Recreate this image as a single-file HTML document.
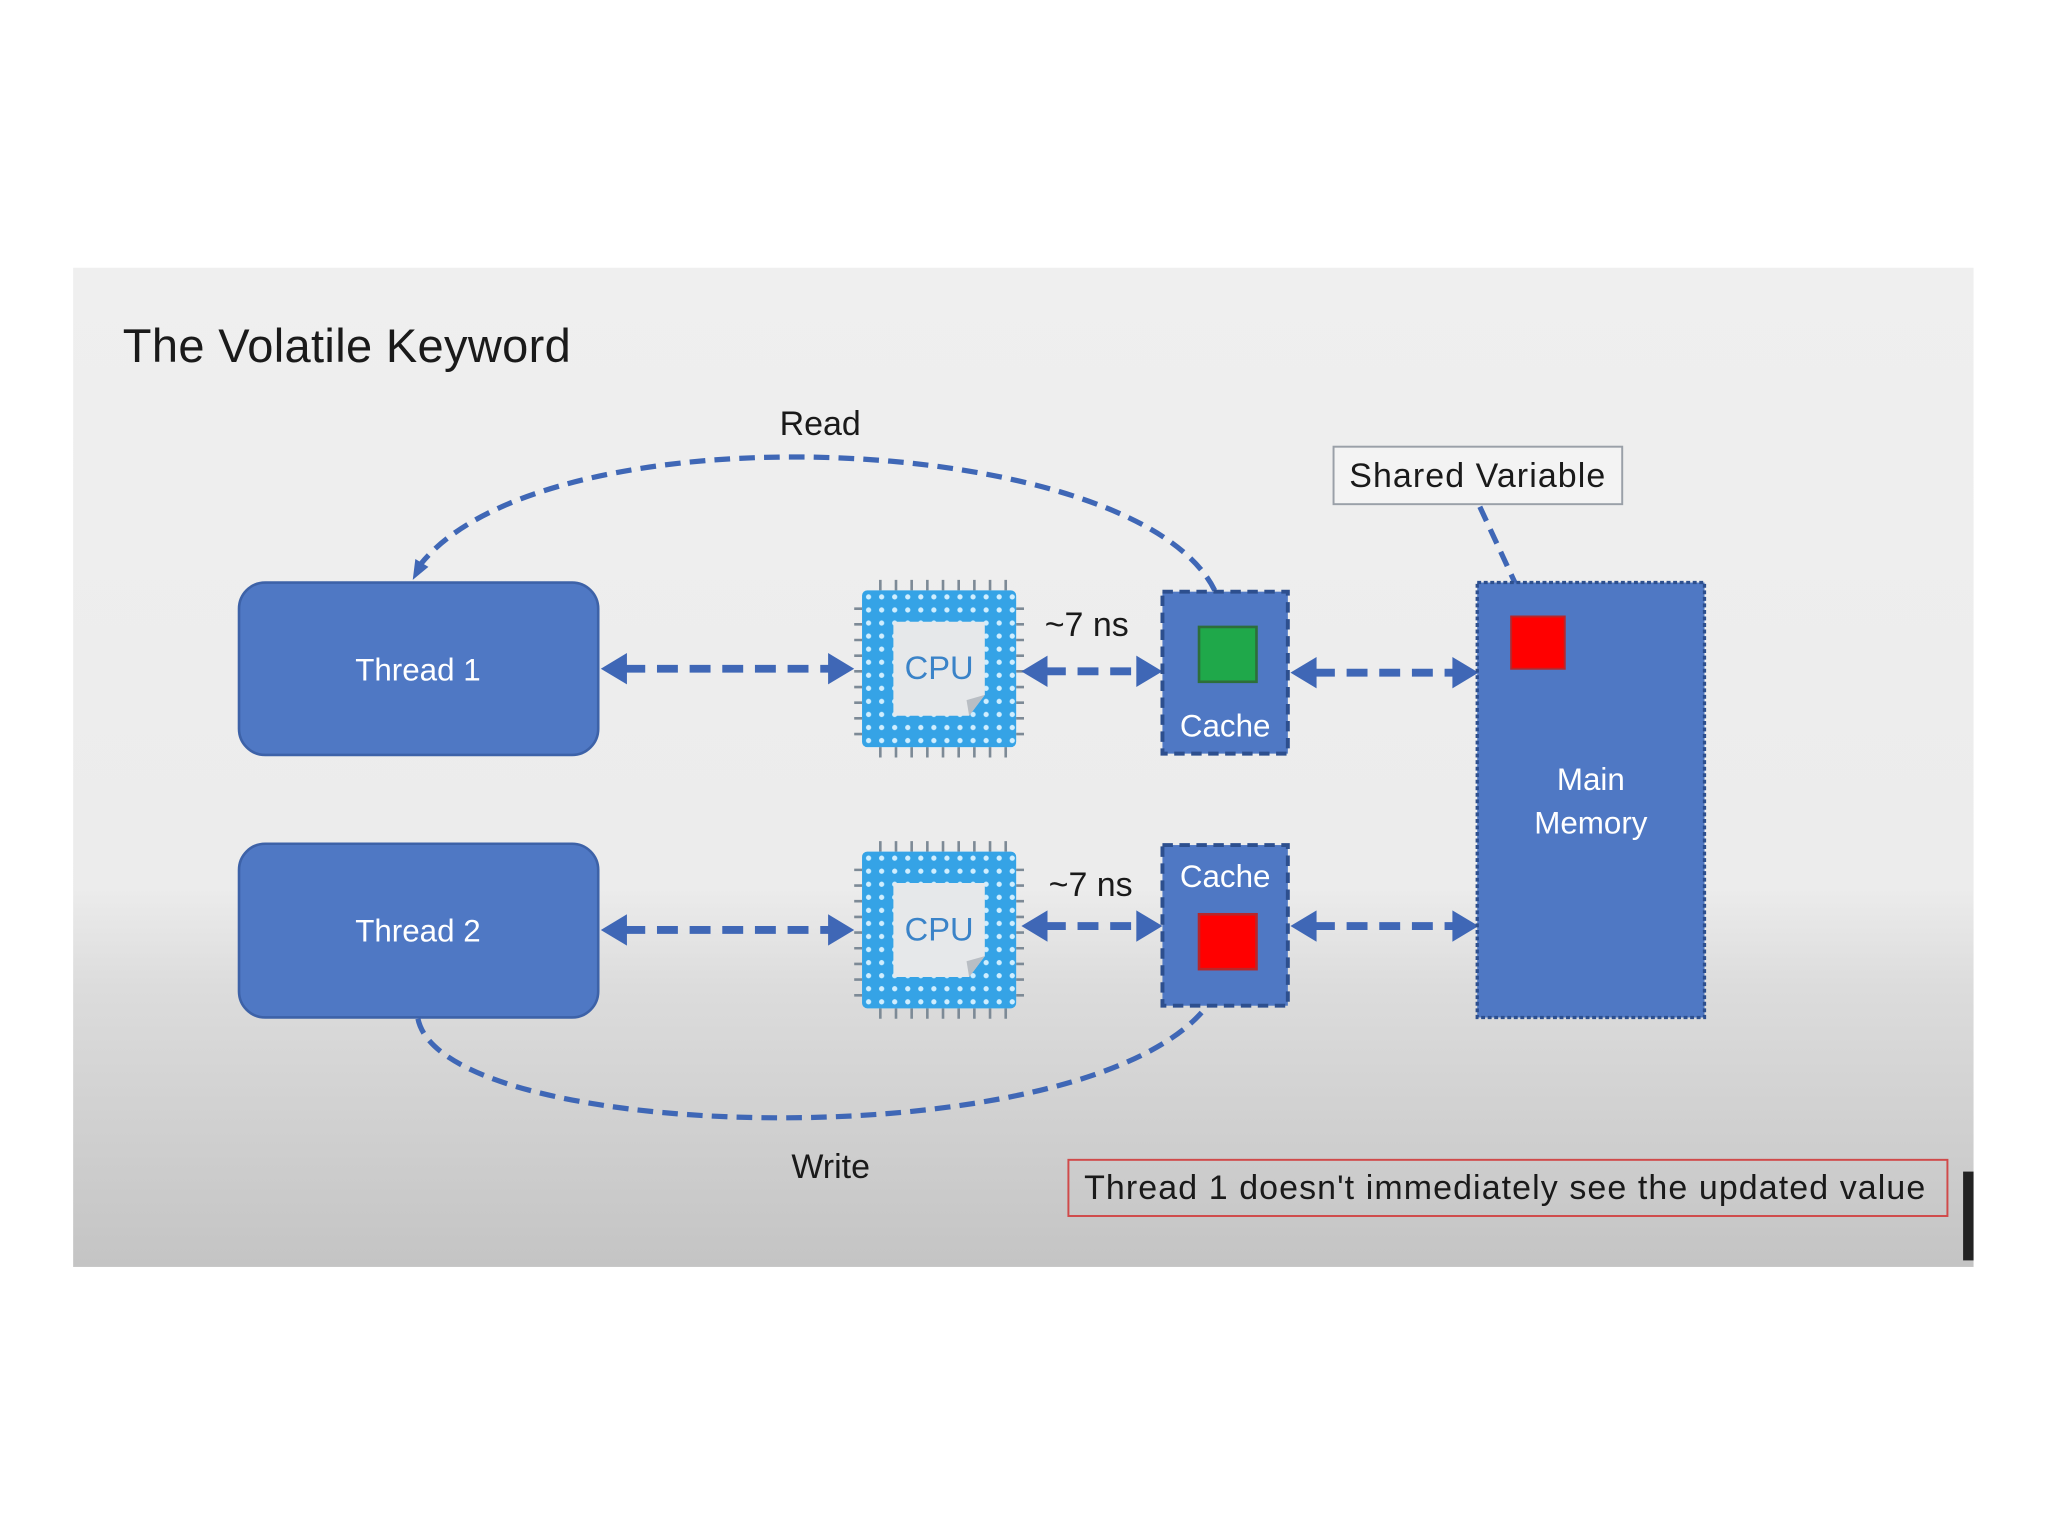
<!DOCTYPE html>
<html><head><meta charset="utf-8"><style>
html,body{margin:0;padding:0;background:#fff;}
svg{display:block;}
text{font-family:"Liberation Sans",sans-serif;}
</style></head><body>
<svg width="2048" height="1536" viewBox="0 0 1568 1176" xmlns="http://www.w3.org/2000/svg">
<defs>
<linearGradient id="bg" x1="0" y1="0" x2="0" y2="1">
<stop offset="0" stop-color="#efefef"/>
<stop offset="0.62" stop-color="#ececec"/>
<stop offset="0.72" stop-color="#dcdcdc"/>
<stop offset="1" stop-color="#c4c4c4"/>
</linearGradient>
<pattern id="dots" width="10" height="10" patternUnits="userSpaceOnUse">
<rect width="10" height="10" fill="#35a3e6"/>
<circle cx="5" cy="5" r="2" fill="#cfeeff"/>
</pattern>
<g id="cpu">
<g stroke="#7d8a96" stroke-width="2">
<path d="M14,-8V0M26,-8V0M38,-8V0M50,-8V0M62,-8V0M74,-8V0M86,-8V0M98,-8V0M110,-8V0"/>
<path d="M14,120V128M26,120V128M38,120V128M50,120V128M62,120V128M74,120V128M86,120V128M98,120V128M110,120V128"/>
<path d="M-6,14H0M-6,26H0M-6,38H0M-6,50H0M-6,62H0M-6,74H0M-6,86H0M-6,98H0M-6,110H0"/>
<path d="M118,14H124M118,26H124M118,38H124M118,50H124M118,62H124M118,74H124M118,86H124M118,98H124M118,110H124"/>
</g>
<rect x="0" y="0" width="118" height="120" rx="4" fill="url(#dots)"/>
<path d="M24,24 H94 V80 L82,96 H24 Z" fill="#e6e8ea"/>
<path d="M94,80 L82,96 L80,84 Z" fill="#b9bec4"/>
<text x="59" y="68" text-anchor="middle" font-size="25" fill="#3a83c8">CPU</text>
</g>
</defs>
<rect x="56" y="205" width="1455" height="765" fill="url(#bg)"/>
<text x="94" y="277" font-size="36" fill="#1a1a1a" textLength="343">The Volatile Keyword</text>
<text x="628" y="333" text-anchor="middle" font-size="26" fill="#1a1a1a">Read</text>
<path d="M930,452 C870,330 420,310 322,432" fill="none" stroke="#3f67b6" stroke-width="4" stroke-dasharray="12,7"/>
<path d="M316,444 L318,428 L328,434 Z" fill="#3f67b6"/>
<path d="M320,780 C340,880 870,890 933,756" fill="none" stroke="#3f67b6" stroke-width="4" stroke-dasharray="12,7"/>
<path d="M938,744 L939,760 L928,756 Z" fill="#3f67b6"/>
<text x="636" y="902" text-anchor="middle" font-size="26" fill="#1a1a1a">Write</text>
<rect x="1021" y="342" width="221" height="44" fill="#f3f3f3" stroke="#9aa0a8" stroke-width="1.5"/>
<text x="1131" y="373" text-anchor="middle" font-size="26" fill="#1a1a1a" textLength="196">Shared Variable</text>
<path d="M1133,388 L1164,455" fill="none" stroke="#3f67b6" stroke-width="4" stroke-dasharray="12,7"/>
<path d="M1170,466 L1158,456 L1168,452 Z" fill="#3f67b6"/>
<rect x="183" y="446" width="275" height="132" rx="20" fill="#4f78c4" stroke="#3d62a8" stroke-width="2"/>
<text x="320" y="521" text-anchor="middle" font-size="24" fill="#fff">Thread 1</text>
<rect x="183" y="646" width="275" height="133" rx="20" fill="#4f78c4" stroke="#3d62a8" stroke-width="2"/>
<text x="320" y="721" text-anchor="middle" font-size="24" fill="#fff">Thread 2</text>
<use href="#cpu" x="660" y="452"/>
<use href="#cpu" x="660" y="652"/>
<g stroke="#3f67b6" stroke-width="6" stroke-dasharray="16,9" fill="none">
<path d="M478,512 H636"/><path d="M478,712 H636"/>
<path d="M800,514 H872"/><path d="M800,709 H872"/>
<path d="M1006,515 H1114"/><path d="M1006,709 H1114"/>
</g>
<g fill="#3f67b6">
<path d="M460,512 L480,500 L480,524Z"/><path d="M654,512 L634,500 L634,524Z"/>
<path d="M460,712 L480,700 L480,724Z"/><path d="M654,712 L634,700 L634,724Z"/>
<path d="M782,514 L802,502 L802,526Z"/><path d="M890,514 L870,502 L870,526Z"/>
<path d="M782,709 L802,697 L802,721Z"/><path d="M890,709 L870,697 L870,721Z"/>
<path d="M988,515 L1008,503 L1008,527Z"/><path d="M1132,515 L1112,503 L1112,527Z"/>
<path d="M988,709 L1008,697 L1008,721Z"/><path d="M1132,709 L1112,697 L1112,721Z"/>
</g>
<text x="832" y="487" text-anchor="middle" font-size="26" fill="#1a1a1a">~7 ns</text>
<text x="835" y="686" text-anchor="middle" font-size="26" fill="#1a1a1a">~7 ns</text>
<rect x="890" y="453" width="96" height="124" fill="#4f78c4" stroke="#2d4f8e" stroke-width="3" stroke-dasharray="8,5"/>
<rect x="918" y="480" width="44" height="42" fill="#1fa84a" stroke="#2d6e3a" stroke-width="2"/>
<text x="938" y="564" text-anchor="middle" font-size="24" fill="#fff">Cache</text>
<rect x="890" y="647" width="96" height="123" fill="#4f78c4" stroke="#2d4f8e" stroke-width="3" stroke-dasharray="8,5"/>
<text x="938" y="679" text-anchor="middle" font-size="24" fill="#fff">Cache</text>
<rect x="918" y="700" width="44" height="42" fill="#ff0000" stroke="#b8262a" stroke-width="2"/>
<rect x="1131" y="446" width="174" height="333" fill="#4f78c4" stroke="#2d4f8e" stroke-width="2.5" stroke-dasharray="3,2"/>
<rect x="1157" y="472" width="41" height="40" fill="#ff0000" stroke="#b8262a" stroke-width="1.5"/>
<text x="1218" y="605" text-anchor="middle" font-size="24" fill="#fff">Main</text>
<text x="1218" y="638" text-anchor="middle" font-size="24" fill="#fff">Memory</text>
<rect x="818" y="888" width="673" height="43" fill="none" stroke="#d04a4a" stroke-width="1.5"/>
<text x="830" y="918" font-size="26" fill="#1a1a1a" textLength="644">Thread 1 doesn't immediately see the updated value</text>
<rect x="1503" y="897" width="8" height="68" fill="#222"/>
</svg>
</body></html>
